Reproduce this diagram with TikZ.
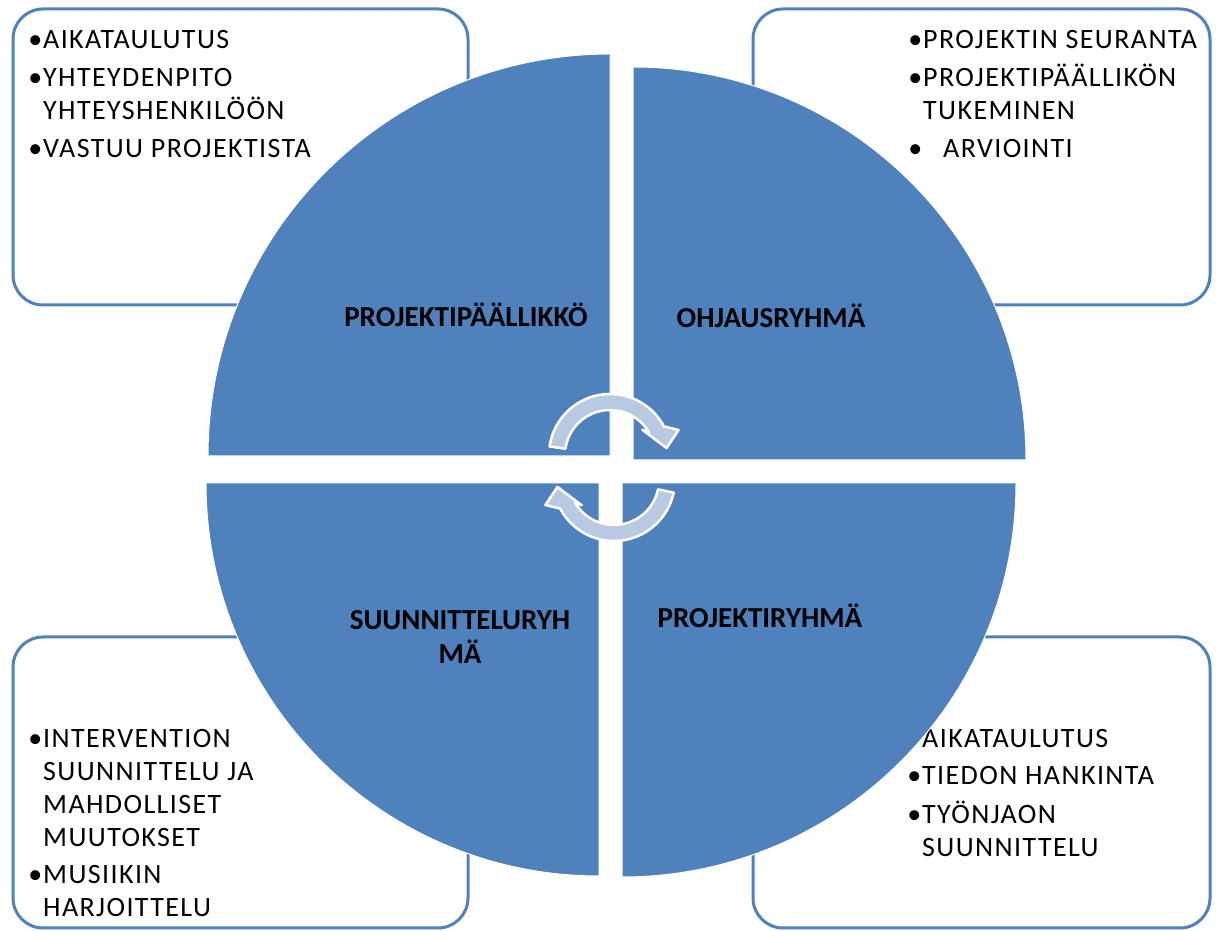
\documentclass[tikz,border=0pt]{standalone}
\usepackage{fontspec}
\setmainfont{Carlito}
\newfontfamily\boxfont{Carlito}[LetterSpace=5]
\usepackage{tikz}
\usetikzlibrary{calc}
\definecolor{segblue}{HTML}{4F81BD}
\definecolor{arrowblue}{HTML}{B9C9E2}
\newcommand{\bul}{\llap{\textbullet\hspace{1pt}}}

\begin{document}
\begin{tikzpicture}[x=1pt, y=1pt, line join=round,
                    every node/.style={inner sep=0pt}]
\tikzstyle{infobox}=[draw=segblue, line width=3pt, fill=white,
                    rounded corners=30pt]
\tikzstyle{quarter}=[fill=segblue, draw=white, line width=1pt]
\tikzstyle{cyclearrow}=[fill=arrowblue, draw=white, line width=2.5pt]
\tikzstyle{boxtext}=[anchor=base west, font=\fontsize{28}{33}\boxfont]
\tikzstyle{seglabel}=[anchor=base, font=\fontsize{29}{32}\selectfont\bfseries]
  \useasboundingbox (0,0) rectangle (1218,931);
  % corner boxes
  \draw[infobox] (13,626) rectangle (468,922);
  \draw[infobox] (753,626) rectangle (1210,922);
  \draw[infobox] (13,3) rectangle (468,294);
  \draw[infobox] (753,3) rectangle (1210,294);
  \node[boxtext] (tltext) at (43,882) {\begin{tabular}[t]{@{}l@{}}
    \bul AIKATAULUTUS\\[5pt] \bul YHTEYDENPITO\\ YHTEYSHENKILÖÖN\\[5pt]
    \bul VASTUU PROJEKTISTA\end{tabular}};
  \node[boxtext] (trtext) at (923,882) {\begin{tabular}[t]{@{}l@{}}
    \bul PROJEKTIN SEURANTA\\[5pt] \bul PROJEKTIPÄÄLLIKÖN\\ TUKEMINEN\\[5pt]
    \bul\hspace{20pt}ARVIOINTI\end{tabular}};
  \node[boxtext] (bltext) at (43,183) {\begin{tabular}[t]{@{}l@{}}
    \bul INTERVENTION\\ SUUNNITTELU JA\\ MAHDOLLISET\\ MUUTOKSET\\[4pt]
    \bul MUSIIKIN\\ HARJOITTELU\end{tabular}};
  \node[boxtext] (brtext) at (922,183) {\begin{tabular}[t]{@{}l@{}}
    \bul AIKATAULUTUS\\[4pt] \bul TIEDON HANKINTA\\[6pt] \bul TYÖNJAON\\
    SUUNNITTELU\end{tabular}};
  % circle quarters
  \coordinate (tlc) at (610,475);
  \coordinate (trc) at (633,471);
  \coordinate (blc) at (599,448);
  \coordinate (brc) at (622,448);
  \path[quarter] (tlc) -- ++(0,402) arc[start angle=90, end angle=180, radius=402] -- cycle;
  \path[quarter] (trc) -- ++(393,0) arc[start angle=0, end angle=90, radius=393] -- cycle;
  \path[quarter] (blc) -- ++(-393,0) arc[start angle=180, end angle=270, radius=393] -- cycle;
  \path[quarter] (brc) -- ++(0,-394) arc[start angle=270, end angle=360, radius=394] -- cycle;
  \node[seglabel] (pp) at (466,604) {PROJEKTIPÄÄLLIKKÖ};
  \node[seglabel] (or) at (771,603) {OHJAUSRYHMÄ};
  \node[seglabel] (sr) at (460,301) {\begin{tabular}[t]{@{}c@{}}SUUNNITTELURYH\\ MÄ\end{tabular}};
  \node[seglabel] (pr) at (760,303) {PROJEKTIRYHMÄ};
  % circular arrows
  \coordinate (c1) at (610,476);
  \coordinate (c2) at (614,451);
  \path[cyclearrow] ($(c1)+(172:61)$) arc[start angle=172, end angle=28, radius=61]
    -- ($(c1)+(20:73)$) -- ($(c1)+(7:57)$) -- ($(c1)+(38:41)$)
    -- ($(c1)+(30:45)$) arc[start angle=30, end angle=172, radius=45] -- cycle;
  \path[cyclearrow] ($(c2)+(348:61)$) arc[start angle=348, end angle=208, radius=61]
    -- ($(c2)+(200:73)$) -- ($(c2)+(187:57)$) -- ($(c2)+(218:41)$)
    -- ($(c2)+(210:45)$) arc[start angle=210, end angle=348, radius=45] -- cycle;
\end{tikzpicture}
\end{document}
